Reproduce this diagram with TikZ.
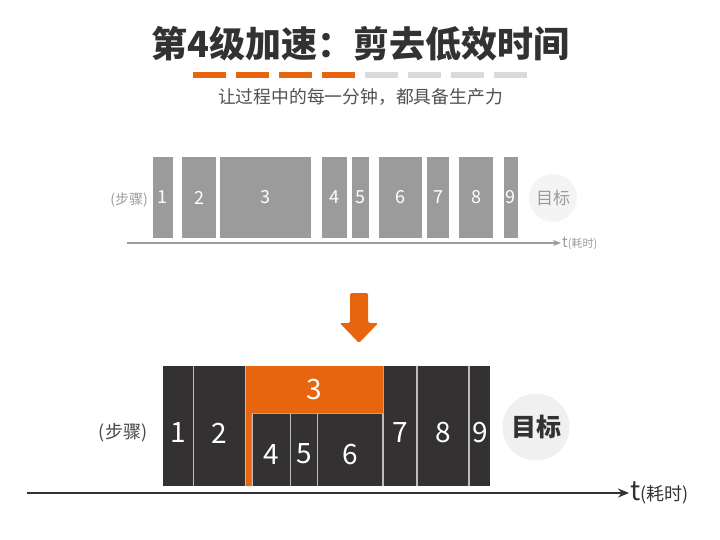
\documentclass[tikz,border=0pt]{standalone}
\usepackage{fontspec}
\usepackage{tikz}
\usetikzlibrary{positioning,arrows.meta}
\setmainfont{Noto Sans CJK SC}
\newfontfamily\cjk{Noto Sans CJK SC}
\newcommand{\pxsize}[1]{\fontsize{#1}{#1}\selectfont}
\definecolor{accent}{HTML}{E8650F}
\definecolor{ink}{HTML}{333132}
\definecolor{stone}{HTML}{9B9B9B}
\definecolor{mist}{HTML}{DADADA}
\definecolor{halo}{HTML}{F0F0F0}
\definecolor{seam}{HTML}{BDBDBD}

\begin{document}
\begin{tikzpicture}[
  x=1pt, y=-1pt,
  font=\cjk,
  >=Stealth,
  tbar/.style={fill=stone, text=white, inner sep=0, minimum height=81pt, font=\cjk\pxsize{18}},
  bbar/.style={fill=ink, inner sep=0, minimum height=120pt},
  bnum/.style={text=white, inner sep=0, font=\cjk\pxsize{28}},
  goal/.style={circle, inner sep=0}
]
\useasboundingbox (0,0) rectangle (720,540);

\node[text=ink, font=\cjk\bfseries\pxsize{36}] (title) at (360.8,44) {第4级加速：剪去低效时间};
\foreach \i in {0,...,3}
  \fill[accent] ({192.7+43*\i},71.7) rectangle ++(33.3,6.6);
\foreach \i in {4,...,7}
  \fill[mist] ({192.7+43*\i},71.7) rectangle ++(33.3,6.6);
\node[text=ink!85, font=\cjk\pxsize{17.8}] (sub) at (360.5,97) {让过程中的每一分钟，都具备生产力};

\foreach \a/\b/\n in {152.7/172.7/1, 182/216/2, 220.3/311.3/3, 322.3/346.7/4, 352/369.3/5,
                      378.7/422/6, 427.3/449/7, 459/493/8, 504/517.7/9}
  \node[tbar, minimum width={(\b-\a)*1pt}] (t\n) at ({(\a+\b)/2},197.5) {\n};
\node[text=stone, font=\cjk\pxsize{14}] (tstep) at (129,200) {(步骤)};
\node[goal, fill=halo!70, minimum size=48pt, text=stone, font=\cjk\pxsize{17}] (tgoal) at (553,198) {目标};
\coordinate (ta0) at (127,243);
\coordinate (ta1) at (561,243);
\draw[stone, line width=1.3pt, -{Stealth[length=8pt,width=6pt]}] (ta0) -- (ta1);
\node[anchor=west, inner sep=1pt, text=stone] (tlab) at (ta1) {{\pxsize{15}t}{\pxsize{11}(耗时)}};

\fill[accent, rounded corners=1.5pt] (350,293) -- (368,293) -- (368,323) -- (378.3,323)
  -- (359,343) -- (339.7,323) -- (350,323) -- cycle;

\fill[seam] (163.3,366) rectangle (490,486);
\foreach \a/\b/\n in {163.3/193.3/1, 194.3/245/2, 384.3/416/7, 417.7/468.3/8, 470/490/9} {
  \node[bbar, minimum width={(\b-\a)*1pt}] (b\n) at ({(\a+\b)/2},426) {};
  \node[bnum] at ([yshift=-7pt]b\n.center) {\n};
}
\fill[accent] (246,366) -| (383.3,413.3) -| (251.7,486) -| cycle;
\node[bnum] (b3) at (314.6,390) {3};
\foreach \a/\b/\n in {252.7/290/4, 291/316.7/5, 317.7/382.3/6} {
  \node[bbar, minimum height=71.7pt, minimum width={(\b-\a)*1pt}] (b\n) at ({(\a+\b)/2},450.15) {};
  \node[bnum] at ([yshift=-4pt]b\n.center) {\n};
}
\node[text=ink!90, font=\cjk\pxsize{18}] (bstep) at (123,433) {(步骤)};
\node[goal, fill=halo, minimum size=67pt, text=ink, font=\cjk\bfseries\pxsize{25}] (bgoal) at (536,427) {目标};
\coordinate (ba0) at (27,493);
\coordinate (ba1) at (629,493);
\draw[ink, line width=2.5pt, -{Stealth[length=11pt,width=9pt]}] (ba0) -- (ba1);
\node[anchor=west, inner sep=1pt, text=ink] (blab) at (ba1) {{\pxsize{27}t}{\pxsize{18}(耗时)}};
\end{tikzpicture}
\end{document}
